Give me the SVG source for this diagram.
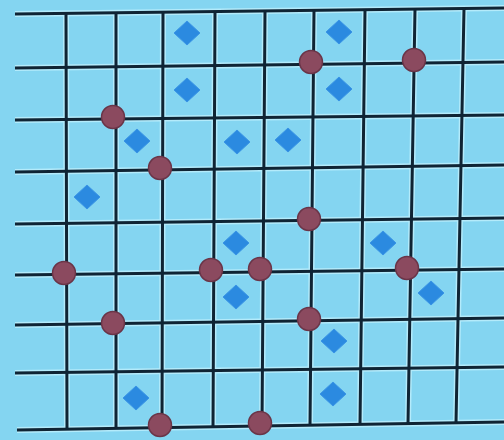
<svg xmlns="http://www.w3.org/2000/svg" xmlns:xlink="http://www.w3.org/1999/xlink" width="504" height="440" viewBox="0 0 504 440">
  <style>
    .halo { stroke: #b4ebfb; stroke-width: 6; stroke-linecap: butt; fill: none; }
    .ln { stroke: #0f2434; stroke-width: 3; stroke-linecap: butt; fill: none; }
    .dot { fill: #8b4a5f; stroke: #6a3548; stroke-width: 1.5; }
    .dia { fill: #2b8ae0; stroke: #3a95e6; stroke-width: 1; stroke-linejoin: round; }
  </style>
  <defs>
    <path id="hlines" d="M15 14 L504 8 M15 68 L504 62 M15 120 L504 115 M15 172 L504 165 M15 224 L504 218 M15 275 L504 269 M15 325 L504 318 M15 373 L504 367 M17 430 L504 422"/>
    <path id="vlines" d="M66 13.4 L67 429.1 M116 12.8 L116 428.3 M163 12.2 L162 427.6 M215 11.5 L213 426.8 M265 10.9 L262 426 M314 10.3 L310 425.2 M365 9.7 L360 424.4 M415 9.1 L408 423.6 M464 8.5 L456 422.8"/>
    <circle id="c" r="11.5" class="dot"/>
    <path id="d" d="M0 -12 L13 0 L0 12 L-13 0 Z" class="dia"/>
  </defs>
  <rect width="504" height="440" fill="#84d5f1"/>
  <g id="grid">
    <use xlink:href="#hlines" class="halo"/>
    <use xlink:href="#vlines" class="halo"/>
    <use xlink:href="#hlines" class="ln"/>
    <use xlink:href="#vlines" class="ln"/>
  </g>
  <g id="diamonds">
    <g id="d1"><use xlink:href="#d" x="187" y="33"/></g>
    <g id="d2"><use xlink:href="#d" x="339" y="32"/></g>
    <g id="d3"><use xlink:href="#d" x="187" y="90"/></g>
    <g id="d4"><use xlink:href="#d" x="339" y="89"/></g>
    <g id="d5"><use xlink:href="#d" x="137" y="141"/></g>
    <g id="d6"><use xlink:href="#d" x="237" y="142"/></g>
    <g id="d7"><use xlink:href="#d" x="288" y="140"/></g>
    <g id="d8"><use xlink:href="#d" x="87" y="197"/></g>
    <g id="d9"><use xlink:href="#d" x="236" y="243"/></g>
    <g id="d10"><use xlink:href="#d" x="383" y="243"/></g>
    <g id="d11"><use xlink:href="#d" x="236" y="297"/></g>
    <g id="d12"><use xlink:href="#d" x="431" y="293"/></g>
    <g id="d13"><use xlink:href="#d" x="334" y="341"/></g>
    <g id="d14"><use xlink:href="#d" x="136" y="398"/></g>
    <g id="d15"><use xlink:href="#d" x="333" y="394"/></g>
  </g>
  <g id="dots">
    <g id="c1"><use xlink:href="#c" x="113" y="117"/></g>
    <g id="c2"><use xlink:href="#c" x="160" y="168"/></g>
    <g id="c3"><use xlink:href="#c" x="311" y="62"/></g>
    <g id="c4"><use xlink:href="#c" x="414" y="60"/></g>
    <g id="c5"><use xlink:href="#c" x="309" y="219"/></g>
    <g id="c6"><use xlink:href="#c" x="64" y="273"/></g>
    <g id="c7"><use xlink:href="#c" x="211" y="270"/></g>
    <g id="c8"><use xlink:href="#c" x="260" y="269"/></g>
    <g id="c9"><use xlink:href="#c" x="407" y="268"/></g>
    <g id="c10"><use xlink:href="#c" x="113" y="323"/></g>
    <g id="c11"><use xlink:href="#c" x="309" y="319"/></g>
    <g id="c12"><use xlink:href="#c" x="160" y="425"/></g>
    <g id="c13"><use xlink:href="#c" x="260" y="423"/></g>
  </g>
</svg>
